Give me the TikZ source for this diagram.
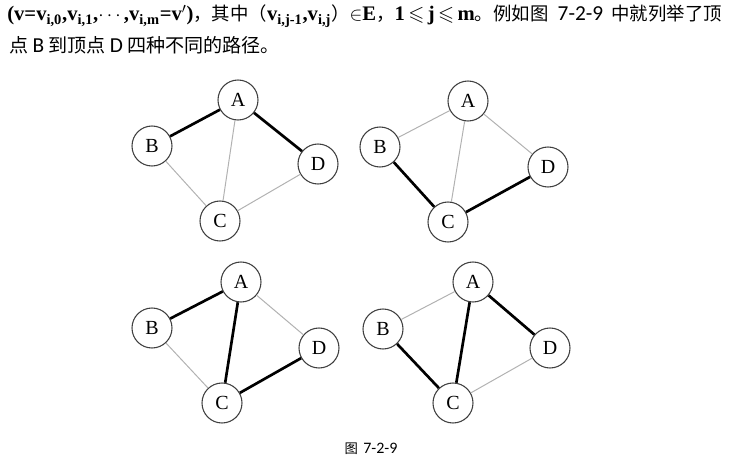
\documentclass[tikz,border=0pt]{standalone}
\usepackage{amsmath}
\usepackage{amssymb}
\usepackage{fontspec}
\setmainfont{Liberation Serif}
\newfontfamily\cjk{Noto Sans CJK SC}
\newfontfamily\calfont{Carlito}
\newcommand{\sbx}[1]{\textsubscript{#1}}
\newcommand{\bl}[1]{{\fontsize{15.5}{18}\selectfont\bfseries #1}}
\newcommand{\cj}[1]{{\cjk #1}}
\newcommand{\cl}[1]{{\fontsize{16}{18}\selectfont\calfont #1}}
\begin{document}
\begin{tikzpicture}[x=0.75pt,y=-0.75pt,
  vert/.style={circle,draw=gray!50!black,line width=0.8pt,minimum size=30pt,inner sep=0pt,fill=white,font=\fontsize{15}{15}\selectfont},
  thinedge/.style={draw=gray!60,line width=0.75pt},
  thickedge/.style={draw=black,line width=2pt},
  txt/.style={anchor=west,inner sep=0pt,font=\fontsize{13.8}{16}\selectfont}]
\useasboundingbox (0,0) rectangle (739,471);

\node[txt] (l1) at (7,16) {\bl{(v=v\sbx{i,0},v\sbx{i,1},$\cdots$,v\sbx{i,m}=v$'$)}\cj{，其中（}\bl{v\sbx{i,j-1},v\sbx{i,j}}\cj{）}{\fontsize{15}{18}\selectfont$\in$}\bl{E}\cj{，}\bl{1\,$\boldsymbol{\leqslant}$\,j\,$\boldsymbol{\leqslant}$\,m}\cj{。例如图\hspace{0.5em}}\cl{7-2-9}\cj{\hspace{0.45em}中就列举了顶}};
\node[txt,font=\fontsize{14.3}{16}\selectfont] (l2) at (9,45) {\cj{点 }\cl{B}\cj{ 到顶点 }\cl{D}\cj{ 四种不同的路径。}};

% graph 1
\node[vert] (a1) at (238,100) {A};
\node[vert] (b1) at (152,146) {B};
\node[vert] (d1) at (318,164) {D};
\node[vert] (c1) at (220,221) {C};
\draw[thickedge] (a1) -- (b1);
\draw[thinedge] (a1) -- (c1);
\draw[thickedge] (a1) -- (d1);
\draw[thinedge] (b1) -- (c1);
\draw[thinedge] (c1) -- (d1);

% graph 2
\node[vert] (a2) at (468,101) {A};
\node[vert] (b2) at (380,147) {B};
\node[vert] (d2) at (548,167) {D};
\node[vert] (c2) at (448,222) {C};
\draw[thinedge] (a2) -- (b2);
\draw[thinedge] (a2) -- (c2);
\draw[thinedge] (a2) -- (d2);
\draw[thickedge] (b2) -- (c2);
\draw[thickedge] (c2) -- (d2);

% graph 3
\node[vert] (a3) at (241,282) {A};
\node[vert] (b3) at (152,328) {B};
\node[vert] (d3) at (319,348) {D};
\node[vert] (c3) at (222,403) {C};
\draw[thickedge] (a3) -- (b3);
\draw[thickedge] (a3) -- (c3);
\draw[thinedge] (a3) -- (d3);
\draw[thinedge] (b3) -- (c3);
\draw[thickedge] (c3) -- (d3);

% graph 4
\node[vert] (a4) at (473,282) {A};
\node[vert] (b4) at (383,329) {B};
\node[vert] (d4) at (550,348) {D};
\node[vert] (c4) at (453,403) {C};
\draw[thinedge] (a4) -- (b4);
\draw[thickedge] (a4) -- (c4);
\draw[thickedge] (a4) -- (d4);
\draw[thickedge] (b4) -- (c4);
\draw[thinedge] (c4) -- (d4);

\node[inner sep=0pt,font=\fontsize{10}{12}\selectfont] (cap) at (371,449) {\cj{图\hspace{0.4em}}{\fontsize{12}{12}\selectfont\calfont 7-2-9}};
\end{tikzpicture}
\end{document}
